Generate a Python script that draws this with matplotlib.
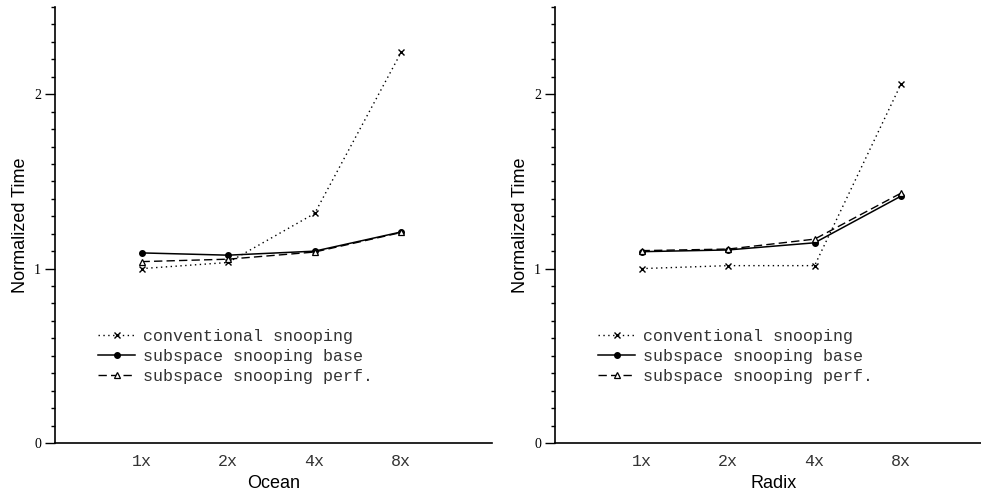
import numpy as np
import matplotlib.pyplot as plt
from matplotlib.ticker import MultipleLocator

# x categories (shared by both panels)
scales = ["1x", "2x", "4x", "8x"]

# Ocean panel
ocean_conv = [1.00, 1.035, 1.316, 2.24]
ocean_base = [1.09, 1.077, 1.10, 1.21]
ocean_perf = [1.04, 1.054, 1.095, 1.207]

# Radix panel
radix_conv = [1.00, 1.017, 1.017, 2.06]
radix_base = [1.097, 1.107, 1.148, 1.416]
radix_perf = [1.103, 1.112, 1.169, 1.433]

labels = ["conventional snooping", "subspace snooping base", "subspace snooping perf."]

W, H = 981, 497
fig = plt.figure(figsize=(W / 100, H / 100), dpi=100)

mono = "Liberation Mono"
sans = "Liberation Sans"
serif = "Liberation Serif"


def draw_panel(ax, name, conv, base, perf):
    x = np.arange(len(scales))
    ax.plot(x, conv, linestyle=(0, (1, 2.5)), color="black", lw=1.0,
            marker="x", ms=5, mew=1.0, label=labels[0])
    ax.plot(x, base, linestyle="-", color="black", lw=1.1,
            marker="o", ms=4, label=labels[1])
    ax.plot(x, perf, linestyle=(0, (6, 3)), color="black", lw=1.0,
            marker="^", ms=4.5, mfc="white", mew=0.9, label=labels[2])

    ax.set_xlim(-1, 4.05)
    ax.set_ylim(0, 2.5)
    ax.spines["top"].set_visible(False)
    ax.spines["right"].set_visible(False)
    ax.spines["left"].set_linewidth(1.2)
    ax.spines["bottom"].set_linewidth(1.2)

    ax.set_xticks(x)
    ax.set_xticklabels(scales, fontfamily=mono, fontsize=12, color="#333333")
    ax.tick_params(axis="x", length=0, pad=8)

    ax.set_yticks([0, 1, 2])
    ax.set_yticklabels(["0", "1", "2"], fontfamily=serif, fontsize=10)
    ax.yaxis.set_minor_locator(MultipleLocator(0.1))
    ax.tick_params(axis="y", which="major", length=7, width=1, direction="out", pad=3)
    ax.tick_params(axis="y", which="minor", length=3, width=1, direction="out")

    ax.set_xlabel(name, fontfamily=sans, fontsize=13, labelpad=4)
    ax.set_ylabel("Normalized Time", fontfamily=sans, fontsize=13, labelpad=4)

    leg = ax.legend(loc="upper left", bbox_to_anchor=(0.084, 0.277), frameon=False,
                    prop={"family": mono, "size": 12}, handlelength=2.2,
                    handletextpad=0.5, labelspacing=0.3, borderaxespad=0)
    for t in leg.get_texts():
        t.set_color("#333333")


ax1 = fig.add_axes([55 / W, 54 / H, 437 / W, 436 / H])
draw_panel(ax1, "Ocean", ocean_conv, ocean_base, ocean_perf)

ax2 = fig.add_axes([555 / W, 54 / H, 437 / W, 436 / H])
draw_panel(ax2, "Radix", radix_conv, radix_base, radix_perf)

fig.savefig("out.png", dpi=100)
